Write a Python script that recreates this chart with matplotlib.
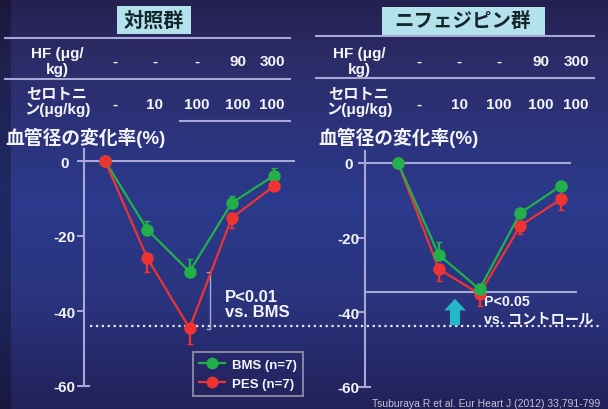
import numpy as np
import matplotlib
matplotlib.use("Agg")
import matplotlib.pyplot as plt
from matplotlib.patches import Rectangle
from matplotlib.lines import Line2D
from matplotlib.transforms import blended_transform_factory

plt.rcParams['font.family'] = ['Liberation Sans', 'Noto Sans CJK JP', 'DejaVu Sans']
plt.rcParams['axes.unicode_minus'] = False

# data
doses_x = [1, 2, 3, 4, 5]
hf_row = ['-', '-', '-', '90', '300']
sero_row = ['-', '10', '100', '100', '100']

ctrl_bms = [0, -18.3, -29.5, -11.2, -3.9]
ctrl_bms_err = [0, 2.4, 3.4, 2.0, 2.0]
ctrl_pes = [0, -25.9, -44.6, -15.2, -6.7]
ctrl_pes_err = [0, 3.6, 4.2, 2.7, 1.0]

nif_bms = [0, -24.6, -33.8, -13.4, -6.1]
nif_bms_err = [0, 3.4, 1.5, 1.0, 1.0]
nif_pes = [0, -28.4, -35.1, -16.8, -9.7]
nif_pes_err = [0, 3.2, 3.2, 2.2, 3.0]

ctrl_sig_level = -44.1
nif_sig_level = -34.6

W, H = 608, 410
GREEN = '#22b04a'
RED = '#ee3333'
LINE = '#a8a8d8'
WHITE = '#f4f4fa'

fig = plt.figure(figsize=(W / 100, H / 100), dpi=100)


def fx(px):
    return px / W


def fy(py):
    return 1 - py / H


# background gradient
bg = fig.add_axes([0, 0, 1, 1])
stops_y = [0, 60, 200, 300, 410]
stops_c = np.array([[0x24, 0x20, 0x50], [0x2c, 0x2c, 0x68], [0x2b, 0x3a, 0x8c],
                    [0x2a, 0x34, 0x7e], [0x22, 0x20, 0x58]]) / 255
yy = np.arange(H)
grad = np.stack([np.interp(yy, stops_y, stops_c[:, k]) for k in range(3)], axis=1)
img = np.repeat(grad[:, None, :], W, axis=1)
img[:, :11, :] *= 0.72
bg.imshow(img, aspect='auto', extent=[0, W, H, 0])
bg.set_xlim(0, W)
bg.set_ylim(H, 0)
bg.axis('off')

# header boxes
fig.patches.append(Rectangle((fx(117), fy(35)), fx(191) - fx(117), fy(7) - fy(35),
                             transform=fig.transFigure, fc='#b4e2ec', ec='none'))
fig.patches.append(Rectangle((fx(382), fy(37)), fx(545) - fx(382), fy(8) - fy(37),
                             transform=fig.transFigure, fc='#b4e2ec', ec='none'))
fig.text(fx(154), fy(21), '対照群', ha='center', va='center', fontsize=14.5,
         fontweight='bold', color='#15252c')
fig.text(fx(463), fy(22), 'ニフェジピン群', ha='center', va='center', fontsize=14,
         fontweight='bold', color='#15252c')

# table rules
for y0, x0, x1 in [(39, 5, 290), (80, 5, 290), (122, 180, 290),
                   (37, 316, 594), (79, 316, 594)]:
    fig.lines.append(Line2D([fx(x0), fx(x1)], [fy(y0), fy(y0)], transform=fig.transFigure,
                            color=LINE, lw=1.5))

tab_style = dict(ha='center', va='center', fontsize=11, fontweight='bold', color=WHITE,
                 linespacing=1.1)
for lab_x, cols in [(57, [115, 155, 197, 238, 272]), (359, [419, 459, 499, 541, 576])]:
    fig.text(fx(lab_x), fy(62), 'HF (μg/\nkg)', **tab_style)
    fig.text(fx(lab_x), fy(102), 'セロトニ\nン(μg/kg)', **tab_style)
    for cx, h, s in zip(cols, hf_row, sero_row):
        fig.text(fx(cx), fy(62), h, **tab_style)
        fig.text(fx(cx), fy(105), s, **tab_style)

fig.text(fx(5), fy(138), '血管径の変化率(%)', ha='left', va='center', fontsize=13.5,
         fontweight='bold', color=WHITE)
fig.text(fx(318), fy(138), '血管径の変化率(%)', ha='left', va='center', fontsize=13.5,
         fontweight='bold', color=WHITE)


def setup(ax, xlim, label_gap):
    ax.set_facecolor('none')
    ax.set_xlim(*xlim)
    ax.set_ylim(-60, 3.2)
    for s in ['top', 'right', 'bottom']:
        ax.spines[s].set_visible(False)
    ax.spines['left'].set_color(LINE)
    ax.spines['left'].set_linewidth(1.5)
    ax.set_xticks([])
    ax.set_yticks([0, -20, -40, -60])
    ax.tick_params(axis='y', colors=LINE, length=5, width=1.5, pad=label_gap)
    for t in ax.get_yticklabels():
        t.set_color(WHITE)
        t.set_fontweight('bold')
        t.set_fontsize(11)
        t.set_ha('center')
    ax.axhline(0, color=LINE, lw=1.5, zorder=1)
    ax.plot([xlim[0], xlim[0] + 0.12], [-60, -60], color=LINE, lw=1.5, clip_on=False)


def draw_series(ax, y, err, color, up):
    e = np.array(err)
    z = np.zeros_like(e)
    yerr = [z, e] if up else [e, z]
    ax.errorbar(doses_x, y, yerr=yerr, color=color, lw=1.6, marker='o', ms=8,
                mec=color, mfc=color, capsize=2, elinewidth=1.6, clip_on=False, zorder=3)


# left panel
ax1 = fig.add_axes([fx(84), fy(387), fx(295) - fx(84), fy(150) - fy(387)])
setup(ax1, (0.5, 5.5), 9)
draw_series(ax1, ctrl_bms, ctrl_bms_err, GREEN, True)
draw_series(ax1, ctrl_pes, ctrl_pes_err, RED, False)

# dotted significance line across both panels
tr = blended_transform_factory(fig.transFigure, ax1.transData)
ax1.plot([fx(90), fx(600)], [ctrl_sig_level, ctrl_sig_level], transform=tr, ls=':',
         color='#e8e8f4', lw=1.6, clip_on=False, zorder=2)

# bracket
bx = 3.49
ax1.plot([bx - 0.07, bx, bx, bx - 0.07], [ctrl_bms[2], ctrl_bms[2], -44.8, -44.8],
         color=LINE, lw=1.0, clip_on=False)
ax1.text(3.85, -38.1, 'P<0.01\nvs. BMS', color=WHITE, fontsize=12, fontweight='bold',
         va='center', ha='left', linespacing=1.0)

handles = [Line2D([], [], color=GREEN, lw=1.6, marker='o', ms=7.5),
           Line2D([], [], color=RED, lw=1.6, marker='o', ms=7.5)]
leg = ax1.legend(handles, ['BMS (n=7)', 'PES (n=7)'], loc='lower right',
                 bbox_to_anchor=(fx(303), fy(397)), bbox_transform=fig.transFigure,
                 frameon=True, fontsize=9.5, handlelength=2.0, borderpad=0.45,
                 labelspacing=0.55, handletextpad=0.55, borderaxespad=0)
leg.get_frame().set_facecolor('none')
leg.get_frame().set_edgecolor('#9a9ab0')
leg.get_frame().set_linewidth(1.5)
leg.get_frame().set_boxstyle('square', pad=0)
for t in leg.get_texts():
    t.set_color(WHITE)
    t.set_fontweight('bold')

# right panel
ax2 = fig.add_axes([fx(365), fy(388), fx(571) - fx(365), fy(152) - fy(388)])
setup(ax2, (0.19, 5.245), 7)
ax2.plot([0.19, 5.37], [nif_sig_level, nif_sig_level], color=LINE, lw=1.5,
         clip_on=False, zorder=1)
draw_series(ax2, nif_pes, nif_pes_err, RED, False)
draw_series(ax2, nif_bms, nif_bms_err, GREEN, True)

ax2.annotate('', xy=(fx(455), fy(297)), xytext=(fx(455), fy(329)),
             xycoords='figure fraction', textcoords='figure fraction',
             arrowprops=dict(arrowstyle='simple,head_width=1.3,head_length=0.7,tail_width=0.6',
                             fc='#22b8c8', ec='none', mutation_scale=12))
ax2.text(3.12, -39.3, 'P<0.05\nvs. コントロール', color=WHITE, fontsize=10.3,
         fontweight='bold', va='center', ha='left', linespacing=1.22)

fig.text(fx(600), fy(404), 'Tsuburaya R et al. Eur Heart J (2012) 33,791-799',
         ha='right', va='center', fontsize=7.5, color='#c4c4d4')

fig.savefig('out.png', dpi=100)
